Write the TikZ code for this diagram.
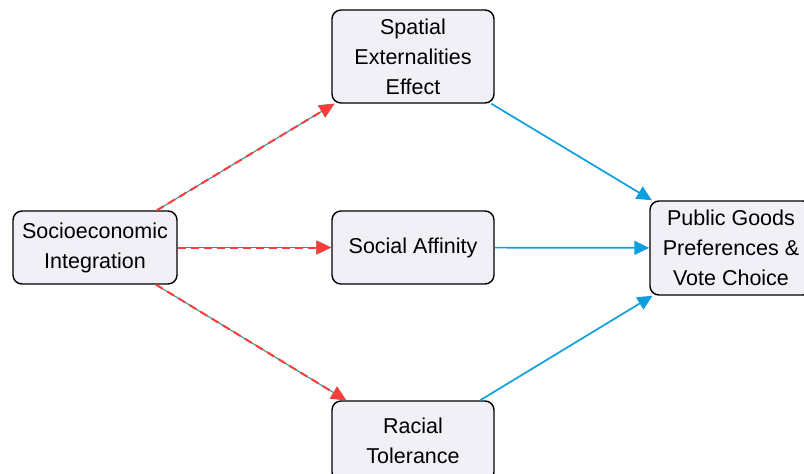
\documentclass[tikz,border=0pt]{standalone}
\usepackage{fontspec}
\setmainfont{Liberation Sans}
\usetikzlibrary{arrows.meta}
\definecolor{boxfill}{HTML}{F2F0F7}
\definecolor{redarr}{HTML}{FF3B3B}
\definecolor{tealline}{HTML}{2A9D8F}
\definecolor{bluearr}{HTML}{0EA0DE}
\tikzset{
  box/.style={draw=black, line width=1.4pt, fill=boxfill, rounded corners=9pt,
    align=center, font=\fontsize{21.5}{30}\selectfont, inner sep=0pt},
  redunder/.style={draw=tealline, line width=1.1pt, -{Triangle[length=15pt,width=14pt]}},
  redover/.style={draw=redarr, line width=2pt, dash pattern=on 8pt off 5pt,
    -{Triangle[length=15pt,width=14pt,fill=redarr,line width=0pt]}},
  bluearrow/.style={draw=bluearr, line width=1.7pt, -{Triangle[length=15pt,width=14pt]}}
}
\begin{document}
\begin{tikzpicture}[x=1pt,y=-1pt]
\useasboundingbox (0,0) rectangle (804,474);
\clip (0,0) rectangle (804,474);
\node[box, minimum width=164pt, minimum height=73pt] (soc) at (95,247.5) {Socioeconomic\\Integration};
\node[box, minimum width=162pt, minimum height=93pt] (spa) at (413,56.5) {Spatial\\Externalities\\Effect};
\node[box, minimum width=162pt, minimum height=73pt] (aff) at (413,247.5) {Social Affinity};
\node[box, minimum width=162pt, minimum height=80pt] (rac) at (413,441) {Racial\\Tolerance};
\node[box, minimum width=162pt, minimum height=94pt] (pub) at (731,248) {Public Goods\\Preferences \&\\Vote Choice};
\foreach \t in {spa,aff,rac}{
  \draw[redunder] (soc) -- (\t);
  \draw[redover] (soc) -- (\t);
}
\draw[bluearrow] (spa) -- (pub);
\draw[bluearrow] (aff) -- (pub);
\draw[bluearrow] (rac) -- (pub);
\end{tikzpicture}
\end{document}
